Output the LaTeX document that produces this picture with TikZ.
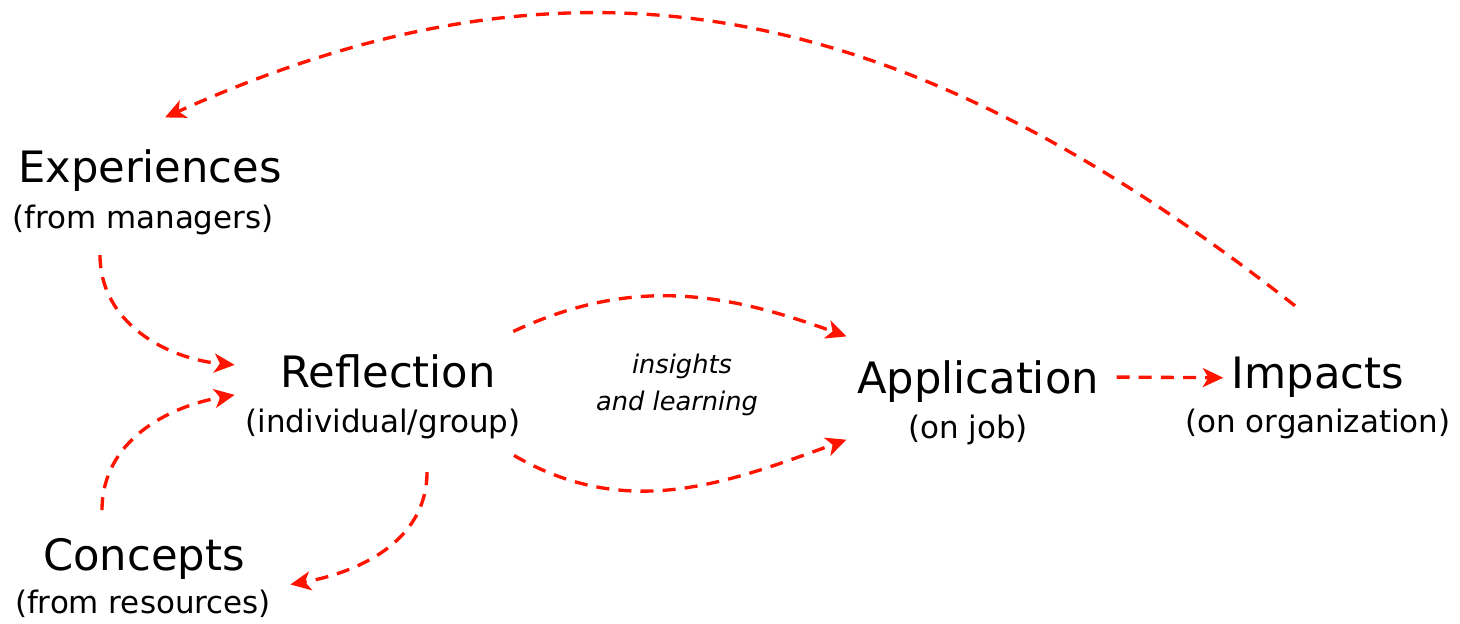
\documentclass[tikz,border=0pt]{standalone}
\usepackage{fontspec}
\setmainfont{DejaVu Sans}
\usetikzlibrary{arrows.meta,calc}

\definecolor{flowred}{RGB}{255,20,0}

\begin{document}
\begin{tikzpicture}[x=0.01cm,y=0.01cm,
  title/.style={anchor=base,inner sep=0pt,font=\fontsize{12.3}{14}\selectfont},
  sub/.style={anchor=base,inner sep=0pt,font=\fontsize{8.8}{10}\selectfont},
  note/.style={anchor=base,inner sep=0pt,font=\fontsize{7.3}{9}\selectfont\itshape},
  flow/.style={draw=flowred,line width=0.95pt,dash pattern=on 3.7pt off 2.6pt,
    -{Stealth[length=5.8pt,width=5.4pt,inset=1.6pt]}}]
\useasboundingbox (0,0) rectangle (1460,623);

  % Sources on the left
  \node[title] (exp)     at (150,441) {Experiences};
  \node[sub]   (exp-sub) at (143,395) {(from managers)};
  \node[title] (conc)     at (144,53) {Concepts};
  \node[sub]   (conc-sub) at (143,10) {(from resources)};

  % Middle and right
  \node[title] (refl)     at (388,236) {Reflection};
  \node[sub]   (refl-sub) at (383,191) {(individual/group)};
  \node[title] (app)      at (978,230) {Application};
  \node[sub]   (app-sub)  at (968,185) {(on job)};
  \node[title] (imp)      at (1318,235) {Impacts};
  \node[sub]   (imp-sub)  at (1318,191) {(on organization)};

  \node[note] (ins)   at (682,250) {insights};
  \node[note] (learn) at (677,213) {and learning};

  % Feedback loop over the top
  \draw[flow] ($(imp.north)+(-23,50)$) .. controls +(-395,310) and +(410,185) .. ($(exp.north)+(15,31)$);

  \draw[flow] ($(exp-sub.south)+(-43,-20)$) to[out=-90,in=175] ($(refl.west)+(-45,6)$);
  \draw[flow] ($(conc.north)+(-42,27)$) to[out=90,in=190] ($(refl.west)+(-45,-24)$);
  \draw[flow] ($(refl-sub.south)+(44,-33)$) to[out=-90,in=10] ($(conc.east)+(45,-26)$);

  \draw[flow] ($(refl.north east)+(17,22)$) to[out=25,in=160] ($(app.north west)+(-10,23)$);
  \draw[flow] ($(refl-sub.east)+(-7,-32)$) to[out=-30,in=200] ($(app.south west)+(-10,-37)$);
  \draw[flow] ($(app.east)+(17,4)$) -- ($(imp.west)+(-8,-1)$);
\end{tikzpicture}
\end{document}
